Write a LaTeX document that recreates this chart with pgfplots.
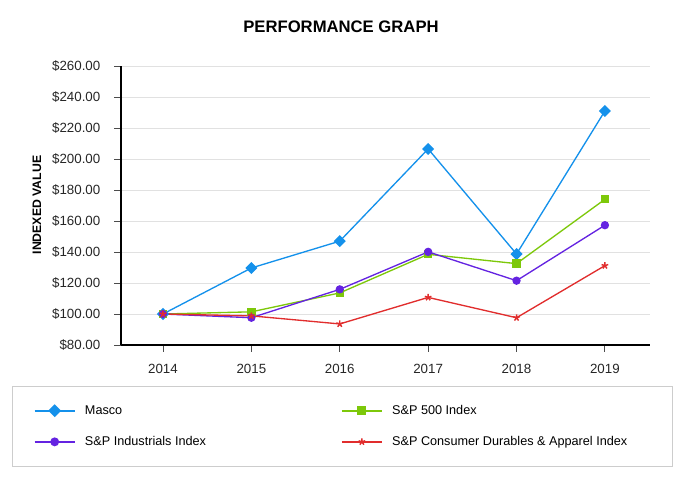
\documentclass[border=0pt]{standalone}
\usepackage{pgfplots}
\pgfplotsset{compat=1.18}
\usepackage{fontspec}
\setmainfont{Liberation Sans}
\definecolor{mascoblue}{RGB}{20,145,235}
\definecolor{spgreen}{RGB}{125,200,10}
\definecolor{indpurple}{RGB}{100,35,225}
\definecolor{cdred}{RGB}{225,45,45}
\definecolor{gridgray}{RGB}{225,225,225}
\definecolor{boxgray}{RGB}{205,205,205}

\begin{document}
\begin{tikzpicture}[x=0.75pt,y=0.75pt]
% page frame: 682 x 480 px, axis lower left corner at pixel (121,345)
\path[use as bounding box] (-121,-135) rectangle (561,345);
\begin{axis}[
at={(0,0)}, anchor=south west,
scale only axis,
width=396.75pt, height=209.25pt,
xmin=2013.525, xmax=2019.51,
ymin=80, ymax=260,
xtick={2014,...,2019},
ytick={80,100,...,260},
xticklabel style={/pgf/number format/1000 sep={}},
yticklabel={\$\pgfmathprintnumber[fixed,fixed zerofill,precision=2]{\tick}},
/pgf/number format/assume math mode=true,
tick label style={font=\fontsize{10}{12}\selectfont, text=black!85},
axis x line*=bottom, axis y line*=left,
axis line style={black, line width=1pt},
x axis line style={-},
y axis line style={-},
tick style={black!70, line width=0.6pt},
tick align=outside,
major tick length=5pt,
ymajorgrids, grid style={gridgray, line width=0.6pt},
xticklabel shift=6pt,
yticklabel shift=7pt,
legend columns=2,
legend cell align=left,
legend style={
  at={(-0.206,-0.147)}, anchor=north west,
  draw=boxgray, line width=0.6pt,
  inner xsep=16pt, inner ysep=12pt,
  row sep=11pt,
  font=\fontsize{9.5}{11}\selectfont,
},
legend image code/.code={%
  \draw[mark repeat=2,mark phase=2,#1,line width=1.4pt] plot coordinates {(0pt,0pt) (15pt,0pt) (30pt,0pt)};},
]
\addplot[mascoblue, line width=1pt, mark=square*, mark size=2.7pt, mark options={rotate=45}] coordinates {
(2014,100) (2015,129.7) (2016,147) (2017,206.5) (2018,138.7) (2019,231)};
\addplot[spgreen, line width=1pt, mark=square*, mark size=2.6pt] coordinates {
(2014,100) (2015,101.4) (2016,113.6) (2017,138.5) (2018,132.5) (2019,174)};
\addplot[indpurple, line width=1pt, mark=*, mark size=2.6pt] coordinates {
(2014,100) (2015,97.6) (2016,115.9) (2017,140.1) (2018,121.5) (2019,157.3)};
\addplot[cdred, line width=1pt, mark=star, mark size=2.6pt, mark options={line width=1.1pt}] coordinates {
(2014,100) (2015,98.8) (2016,93.6) (2017,110.7) (2018,97.6) (2019,131.2)};
\legend{\hspace{5pt}\makebox[190pt][l]{Masco}, \hspace{5pt}\makebox[192pt][l]{S\&P 500 Index},
\hspace{5pt}\makebox[190pt][l]{S\&P Industrials Index}, \hspace{5pt}\makebox[192pt][l]{S\&P Consumer Durables \& Apparel Index}}
\end{axis}
\node[font=\bfseries\fontsize{12.5}{15}\selectfont] at (220,318) {PERFORMANCE GRAPH};
\node[font=\bfseries\fontsize{9.2}{11}\selectfont, rotate=90] at (-84,140) {INDEXED VALUE};
\end{tikzpicture}
\end{document}
